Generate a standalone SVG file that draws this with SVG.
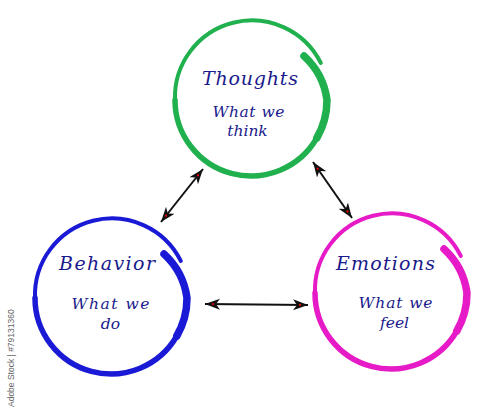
<svg xmlns="http://www.w3.org/2000/svg" width="500" height="414" viewBox="0 0 500 414">
<style>
.ring{fill:none;stroke-linecap:round}
.green{stroke:#21b04e}
.blue{stroke:#1a1ad6}
.mag{stroke:#e61ac6}
.t1{font-family:"DejaVu Serif",serif;font-style:italic;font-size:19px;fill:#1a1a8c;text-anchor:middle}
.t2{font-family:"DejaVu Serif",serif;font-style:italic;font-size:15.5px;fill:#1a1a8c;text-anchor:middle}
.arr{stroke:#111;stroke-width:2;fill:none}
</style>
<defs>
<marker id="ah" viewBox="0 -6 16 12" markerWidth="16" markerHeight="12" refX="15" refY="0" orient="auto-start-reverse" markerUnits="userSpaceOnUse">
<path d="M0,-5.5 L15,0 L0,5.5 L4,0 z" fill="#111"/>
<circle cx="7" cy="0" r="1.1" fill="#e00"/>
</marker>
<g id="ringshape">
<path d="M69.8,-37.1 A77 77 0 0 0 -76 0" stroke-width="4"/>
<path d="M-76,0 A76 76 0 0 0 65.8 38" stroke-width="5.5"/>
<path d="M65.8,38 A76 76 0 0 0 76 0 A73 73 0 0 0 53 -44" stroke-width="7.5"/>
</g>
</defs>
<g id="connectors">
<line class="arr" x1="203" y1="169" x2="161" y2="222" marker-start="url(#ah)" marker-end="url(#ah)"/>
<line class="arr" x1="313" y1="162" x2="352" y2="218" marker-start="url(#ah)" marker-end="url(#ah)"/>
<line class="arr" x1="205" y1="304" x2="308" y2="305" marker-start="url(#ah)" marker-end="url(#ah)"/>
</g>
<g id="thoughts">
<use href="#ringshape" class="ring green" transform="translate(251,100)"/>
<text class="t1" x="250" y="85" textLength="96">Thoughts</text>
<text class="t2" x="248.5" y="117" textLength="72">What we</text>
<text class="t2" x="247.5" y="136">think</text>
</g>
<g id="behavior">
<use href="#ringshape" class="ring blue" transform="translate(111,298)"/>
<text class="t1" x="107" y="270" textLength="96">Behavior</text>
<text class="t2" x="110.5" y="309" textLength="78">What we</text>
<text class="t2" x="110.5" y="328.5">do</text>
</g>
<g id="emotions">
<use href="#ringshape" class="ring mag" transform="translate(391,293)"/>
<text class="t1" x="385.5" y="270" textLength="99">Emotions</text>
<text class="t2" x="395.5" y="308" textLength="74">What we</text>
<text class="t2" x="394.5" y="327.5">feel</text>
</g>
<text transform="translate(14,407) rotate(-90)" font-family="Liberation Sans,Arial,sans-serif" font-size="8.5" fill="#666">Adobe Stock | #79131360</text>
</svg>
